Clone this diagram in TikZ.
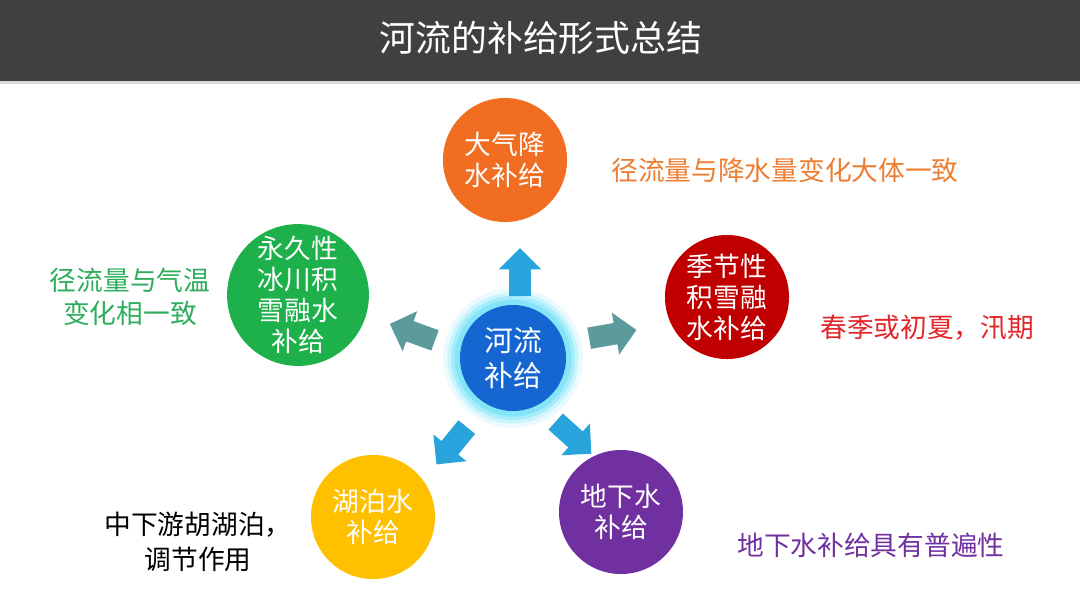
\documentclass[tikz,border=0pt]{standalone}
\usepackage{fontspec}
\setmainfont{Noto Sans CJK SC}
\usetikzlibrary{shapes.arrows, positioning}

\definecolor{barGray}{HTML}{404040}
\definecolor{lineGray}{HTML}{D9D9D9}
\definecolor{rainOrange}{HTML}{F16D21}
\definecolor{snowRed}{HTML}{C00000}
\definecolor{iceGreen}{HTML}{1DB04B}
\definecolor{lakeYellow}{HTML}{FFC000}
\definecolor{soilPurple}{HTML}{7030A0}
\definecolor{hubBlue}{HTML}{1666D2}
\definecolor{glowCyan}{HTML}{6FE0F7}
\definecolor{skyBlue}{HTML}{29A3DC}
\definecolor{tealGray}{HTML}{5B9B9B}
\definecolor{txtOrange}{HTML}{ED7D31}
\definecolor{txtRed}{HTML}{E3262A}
\definecolor{txtGreen}{HTML}{2EAD5C}

\begin{document}
\begin{tikzpicture}[
  x=0.025cm, y=-0.025cm,
  every node/.style={font=\fontsize{19}{22}\selectfont, align=center},
  ball/.style={circle, minimum size=3.1cm, inner sep=0pt, text=white},
  hub/.style={circle, minimum size=2.65cm, inner sep=0pt, fill=hubBlue, text=white,
    font=\fontsize{20.5}{25}\selectfont},
  blk/.style={single arrow, minimum height=1.2cm, inner sep=0.2625cm,
    single arrow head extend=0.2625cm, single arrow head indent=0pt},
  note/.style={inner sep=0pt}
]
\useasboundingbox (0,0) rectangle (1080,608);

% Title bar
\fill[barGray] (0,0) rectangle (1080,81);
\fill[lineGray] (0,81) rectangle (1080,84);
\node[text=white, font=\fontsize{25.5}{30}\selectfont] (title) at (541,38) {河流的补给形式总结};

% Glow and hub
\foreach \r/\o in {1.75/0.15, 1.64/0.25, 1.55/0.4, 1.46/0.6}
  \fill[glowCyan, opacity=\o] (513,358) circle (\r cm);
\node[hub] (river) at (513,358) {河流\\补给};

% Sources
\node[ball, fill=rainOrange] (rain)    at (505,160) {大气降\\水补给};
\node[ball, fill=snowRed]    (season)  at (727,297) {季节性\\积雪融\\水补给};
\node[ball, fill=iceGreen]   (glacier) at (298,295) {永久性\\冰川积\\雪融水\\补给};
\node[ball, fill=lakeYellow] (lake)    at (373,517) {湖泊水\\补给};
\node[ball, fill=soilPurple] (ground)  at (621,512) {地下水\\补给};

% Block arrows
\node[blk, fill=skyBlue, rotate=90]   (toRain)    at (520,277.5) {};
\node[blk, fill=tealGray, rotate=160] (toGlacier) at (417.5,334) {};
\node[blk, fill=tealGray, rotate=10]  (toSeason)  at (607.5,335) {};
\node[blk, fill=skyBlue, rotate=231]  (toLake)    at (455,441.5) {};
\node[blk, fill=skyBlue, rotate=-42]  (toGround)  at (569.5,434) {};

% Notes
\node[note, text=txtOrange, anchor=west]  (rainNote)    at (611,170) {径流量与降水量变化大体一致};
\node[note, text=txtRed, anchor=west]     (seasonNote)  at (820,328) {春季或初夏，汛期};
\node[note, text=txtGreen, font=\fontsize{19}{23.5}\selectfont] (glacierNote) at (130,297) {径流量与气温\\变化相一致};
\node[note, text=black, font=\fontsize{19}{24.5}\selectfont]    (lakeNote)    at (198,542) {中下游胡湖泊，\\调节作用};
\node[note, text=soilPurple, anchor=west] (groundNote)  at (737,545) {地下水补给具有普遍性};

\end{tikzpicture}
\end{document}
